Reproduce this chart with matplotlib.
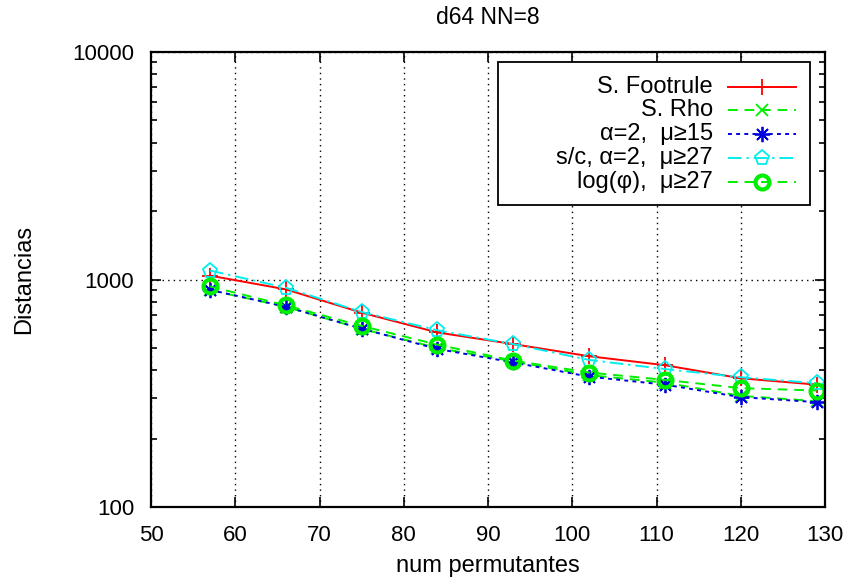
import matplotlib
matplotlib.use("Agg")
import matplotlib.pyplot as plt
from matplotlib.patches import Rectangle
from matplotlib.ticker import LogLocator, NullFormatter, FixedLocator

plt.rcParams['font.family'] = ['Liberation Sans', 'DejaVu Sans']
plt.rcParams['font.size'] = 16

# numero de permutantes
perm = [57, 66, 75, 84, 93, 102, 111, 120, 129]

footrule = [1040, 905, 715, 585, 520, 460, 420, 368, 345]
rho      = [898, 758, 607, 500, 437, 380, 352, 308, 292]
alfa2    = [900, 760, 608, 495, 432, 374, 345, 304, 289]
sc_alfa2 = [1095, 920, 720, 598, 520, 443, 404, 372, 350]
logphi   = [932, 770, 625, 517, 440, 390, 362, 333, 325]

etiquetas = ["S. Footrule", "S. Rho", "α=2,  μ≥15", "s/c, α=2,  μ≥27", "log(φ),  μ≥27"]
xticks = [50, 60, 70, 80, 90, 100, 110, 120, 130]
yticks = [100, 1000, 10000]

fig = plt.figure(figsize=(8.51, 5.84), dpi=100)
ax = fig.add_axes([151/851, 77/584, 674/851, 455/584])

estilos = [
    dict(color='red', ls='-', marker='+', ms=11, mew=1.3),
    dict(color='#00ee00', ls=(0, (5, 3.5)), marker='x', ms=9, mew=1.3),
    dict(color='#0000dd', ls=(0, (2, 2.2)), marker=(8, 2, 0), ms=11, mew=1.3),
    dict(color='#00eeee', ls=(0, (7, 2.5, 1.2, 2.5)), marker='p', ms=11, mew=1.3, mfc='none'),
    dict(color='#00ee00', ls=(0, (5, 3.5)), marker='o', ms=10, mew=3, mfc='none'),
]
series = [footrule, rho, alfa2, sc_alfa2, logphi]

for ys, st in zip(series, estilos):
    ax.plot(perm, ys, lw=1.4, **st)

ax.set_yscale('log')
ax.set_xlim(50, 130)
ax.set_ylim(100, 10000)
ax.xaxis.set_major_locator(FixedLocator(xticks))
ax.yaxis.set_major_locator(FixedLocator(yticks))
ax.set_yticklabels([str(v) for v in yticks])
ax.yaxis.set_minor_locator(LogLocator(base=10, subs=range(2, 10)))
ax.yaxis.set_minor_formatter(NullFormatter())
ax.tick_params(which='both', direction='in', top=True, right=True, width=1.2)
ax.tick_params(which='major', length=7, labelsize=16)
ax.tick_params(axis='y', which='major', pad=12)
ax.tick_params(axis='x', which='major', pad=13)
ax.tick_params(which='minor', length=4.3)
ax.grid(True, which='major', color='black', ls=(0, (1, 3)), lw=1)
for s in ax.spines.values():
    s.set_linewidth(1.6)

fig.text(488/851, 1 - 18/584, "d64 NN=8", ha='center', va='center', fontsize=16.5)
fig.text(488/851, 1 - 566/584, "num permutantes", ha='center', va='center', fontsize=17)
fig.text(24/851, 1 - 279/584, "Distancias", ha='center', va='center',
         rotation=90, fontsize=17)

# leyenda estilo gnuplot: texto alineado a la derecha, muestra a la derecha
x0, x1 = (498 - 151) / 674, (810 - 151) / 674
y0, y1 = (507 - 205) / 455, (507 - 62) / 455
ax.add_patch(Rectangle((x0, y0), x1 - x0, y1 - y0, transform=ax.transAxes,
                       facecolor='white', edgecolor='black', lw=1.3, zorder=5))
filas = [(507 - y) / 455 for y in (87, 110, 134, 158, 182)]
tx = (713 - 151) / 674
lx0, lx1 = (728 - 151) / 674, (796 - 151) / 674
mx = (762 - 151) / 674
for txt, st, yy in zip(etiquetas, estilos, filas):
    ax.text(tx, yy, txt, transform=ax.transAxes, ha='right', va='center',
            fontsize=17, zorder=6)
    st2 = dict(st)
    mk = st2.pop('marker'); ms = st2.pop('ms'); mew = st2.pop('mew')
    mfc = st2.pop('mfc', None)
    ax.plot([lx0, lx1], [yy, yy], transform=ax.transAxes, lw=1.4, zorder=6,
            clip_on=False, **st2)
    ax.plot([mx], [yy], transform=ax.transAxes, ls='none', marker=mk, ms=ms,
            mew=mew, color=st['color'], mfc=mfc if mfc else st['color'],
            zorder=7, clip_on=False)

fig.savefig("out.png", dpi=100)
